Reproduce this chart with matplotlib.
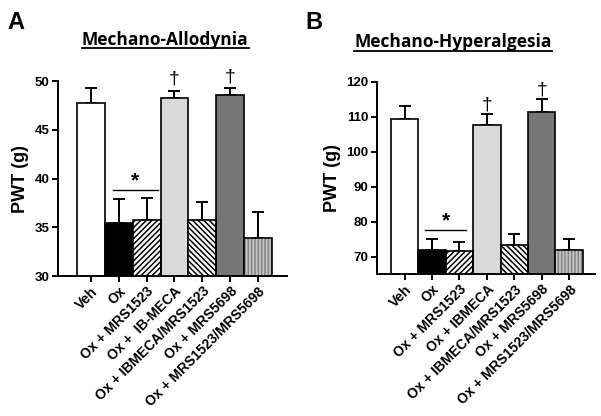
import matplotlib.pyplot as plt
from matplotlib.lines import Line2D
import numpy as np

plt.rcParams['font.family'] = ['Liberation Sans', 'DejaVu Sans']
plt.rcParams['hatch.linewidth'] = 1.1

# data
labels_a = ["Veh", "Ox", "Ox + MRS1523", "Ox +  IB-MECA", "Ox + IBMECA/MRS1523",
            "Ox + MRS5698", "Ox + MRS1523/MRS5698"]
means_a = [47.8, 35.4, 35.7, 48.3, 35.7, 48.55, 33.9]
err_a = [1.5, 2.5, 2.3, 0.7, 1.9, 0.75, 2.7]

labels_b = ["Veh", "Ox", "Ox + MRS1523", "Ox + IBMECA", "Ox + IBMECA/MRS1523",
            "Ox + MRS5698", "Ox + MRS1523/MRS5698"]
means_b = [109.4, 72.0, 71.5, 107.7, 73.4, 111.3, 72.0]
err_b = [3.7, 3.2, 2.8, 3.1, 3.0, 3.8, 3.2]

faces = ["white", "black", "white", "#d9d9d9", "white", "#767676", "#c4c4c4"]
hatches = [None, None, "//////", None, "\\\\\\\\\\\\", None, "|||||"]
hatch_cols = ["black", "black", "black", "black", "black", "black", "#858585"]

fig = plt.figure(figsize=(6.01, 4.16), dpi=100)
ax_a = fig.add_axes([0.0965, 0.3365, 0.381, 0.4685])
ax_b = fig.add_axes([0.627, 0.341, 0.363, 0.462])


def draw_panel(ax, means, errs, labels, ylim, yticks, xlim):
    x = np.arange(len(means))
    base = ylim[0] - 5
    heights = [m - base for m in means]
    for i in range(len(means)):
        if hatches[i]:
            ax.bar(x[i], heights[i], width=1.0, bottom=base, color=faces[i],
                   hatch=hatches[i], edgecolor=hatch_cols[i], linewidth=0, zorder=2)
            ax.bar(x[i], heights[i], width=1.0, bottom=base, fill=False,
                   edgecolor="black", linewidth=1.2, zorder=3)
        else:
            ax.bar(x[i], heights[i], width=1.0, bottom=base, color=faces[i],
                   edgecolor="black", linewidth=1.2, zorder=2)
    # error bars only upwards
    ax.errorbar(x, means, yerr=[np.zeros(len(errs)), errs], fmt="none",
                ecolor="black", elinewidth=1.4, capsize=4, capthick=1.4, zorder=1,
                clip_on=False)
    ax.set_ylim(*ylim)
    ax.set_xlim(*xlim)
    ax.set_yticks(yticks)
    ax.set_xticks(x)
    ax.set_xticklabels(labels, rotation=45, ha="right", rotation_mode="anchor",
                       fontsize=10, fontweight="bold")
    for t in ax.get_yticklabels():
        t.set_fontweight("bold")
        t.set_fontsize(9.5)
    ax.tick_params(width=1.4, length=4, pad=2)
    for s in ["top", "right"]:
        ax.spines[s].set_visible(False)
    for s in ["left", "bottom"]:
        ax.spines[s].set_linewidth(1.4)
        ax.spines[s].set_zorder(4)
    ax.spines["left"].set_bounds(ylim[0], yticks[-1])
    ax.set_ylabel("PWT (g)", fontsize=13, fontweight="bold", labelpad=4)
    return x


xa = draw_panel(ax_a, means_a, err_a, labels_a, (30, 50), [30, 35, 40, 45, 50], (-1.18, 7.04))
xb = draw_panel(ax_b, means_b, err_b, labels_b, (65, 120), [70, 80, 90, 100, 110, 120], (-1.01, 6.94))

# significance marks
ax_a.plot([0.8, 2.4], [38.8, 38.8], color="black", lw=1, clip_on=False, zorder=5)
ax_a.text(1.6, 38.8, "*", ha="center", va="bottom", fontsize=15, fontweight="bold", zorder=5)
for i in [3, 5]:
    ax_a.text(xa[i], means_a[i] + err_a[i] + 0.3, "\u2020", ha="center", va="bottom",
              fontsize=14, clip_on=False, zorder=5)

ax_b.plot([0.75, 2.25], [77.5, 77.5], color="black", lw=1, clip_on=False, zorder=5)
ax_b.text(1.5, 77.5, "*", ha="center", va="bottom", fontsize=15, fontweight="bold", zorder=5)
for i in [3, 5]:
    ax_b.text(xb[i], means_b[i] + err_b[i] + 0.3, "\u2020", ha="center", va="bottom",
              fontsize=14, clip_on=False, zorder=5)

# panel letters and underlined titles
fig.text(0.027, 0.945, "A", fontsize=17, fontweight="bold", ha="center", va="center")
fig.text(0.523, 0.945, "B", fontsize=17, fontweight="bold", ha="center", va="center")

titles = [(0.275, 0.892, "Mechano-Allodynia"), (0.754, 0.887, "Mechano-Hyperalgesia")]
for xc, yb, txt in titles:
    t = fig.text(xc, yb, txt, fontsize=12.5, fontweight="bold", ha="center",
                 va="baseline", family=["Open Sans", "DejaVu Sans"])
    renderer = fig.canvas.get_renderer()
    bb = t.get_window_extent(renderer).transformed(fig.transFigure.inverted())
    fig.add_artist(Line2D([bb.x0, bb.x1], [yb - 0.0085, yb - 0.0085],
                          color="black", lw=1.3, transform=fig.transFigure))

fig.savefig("out.png", dpi=100)
